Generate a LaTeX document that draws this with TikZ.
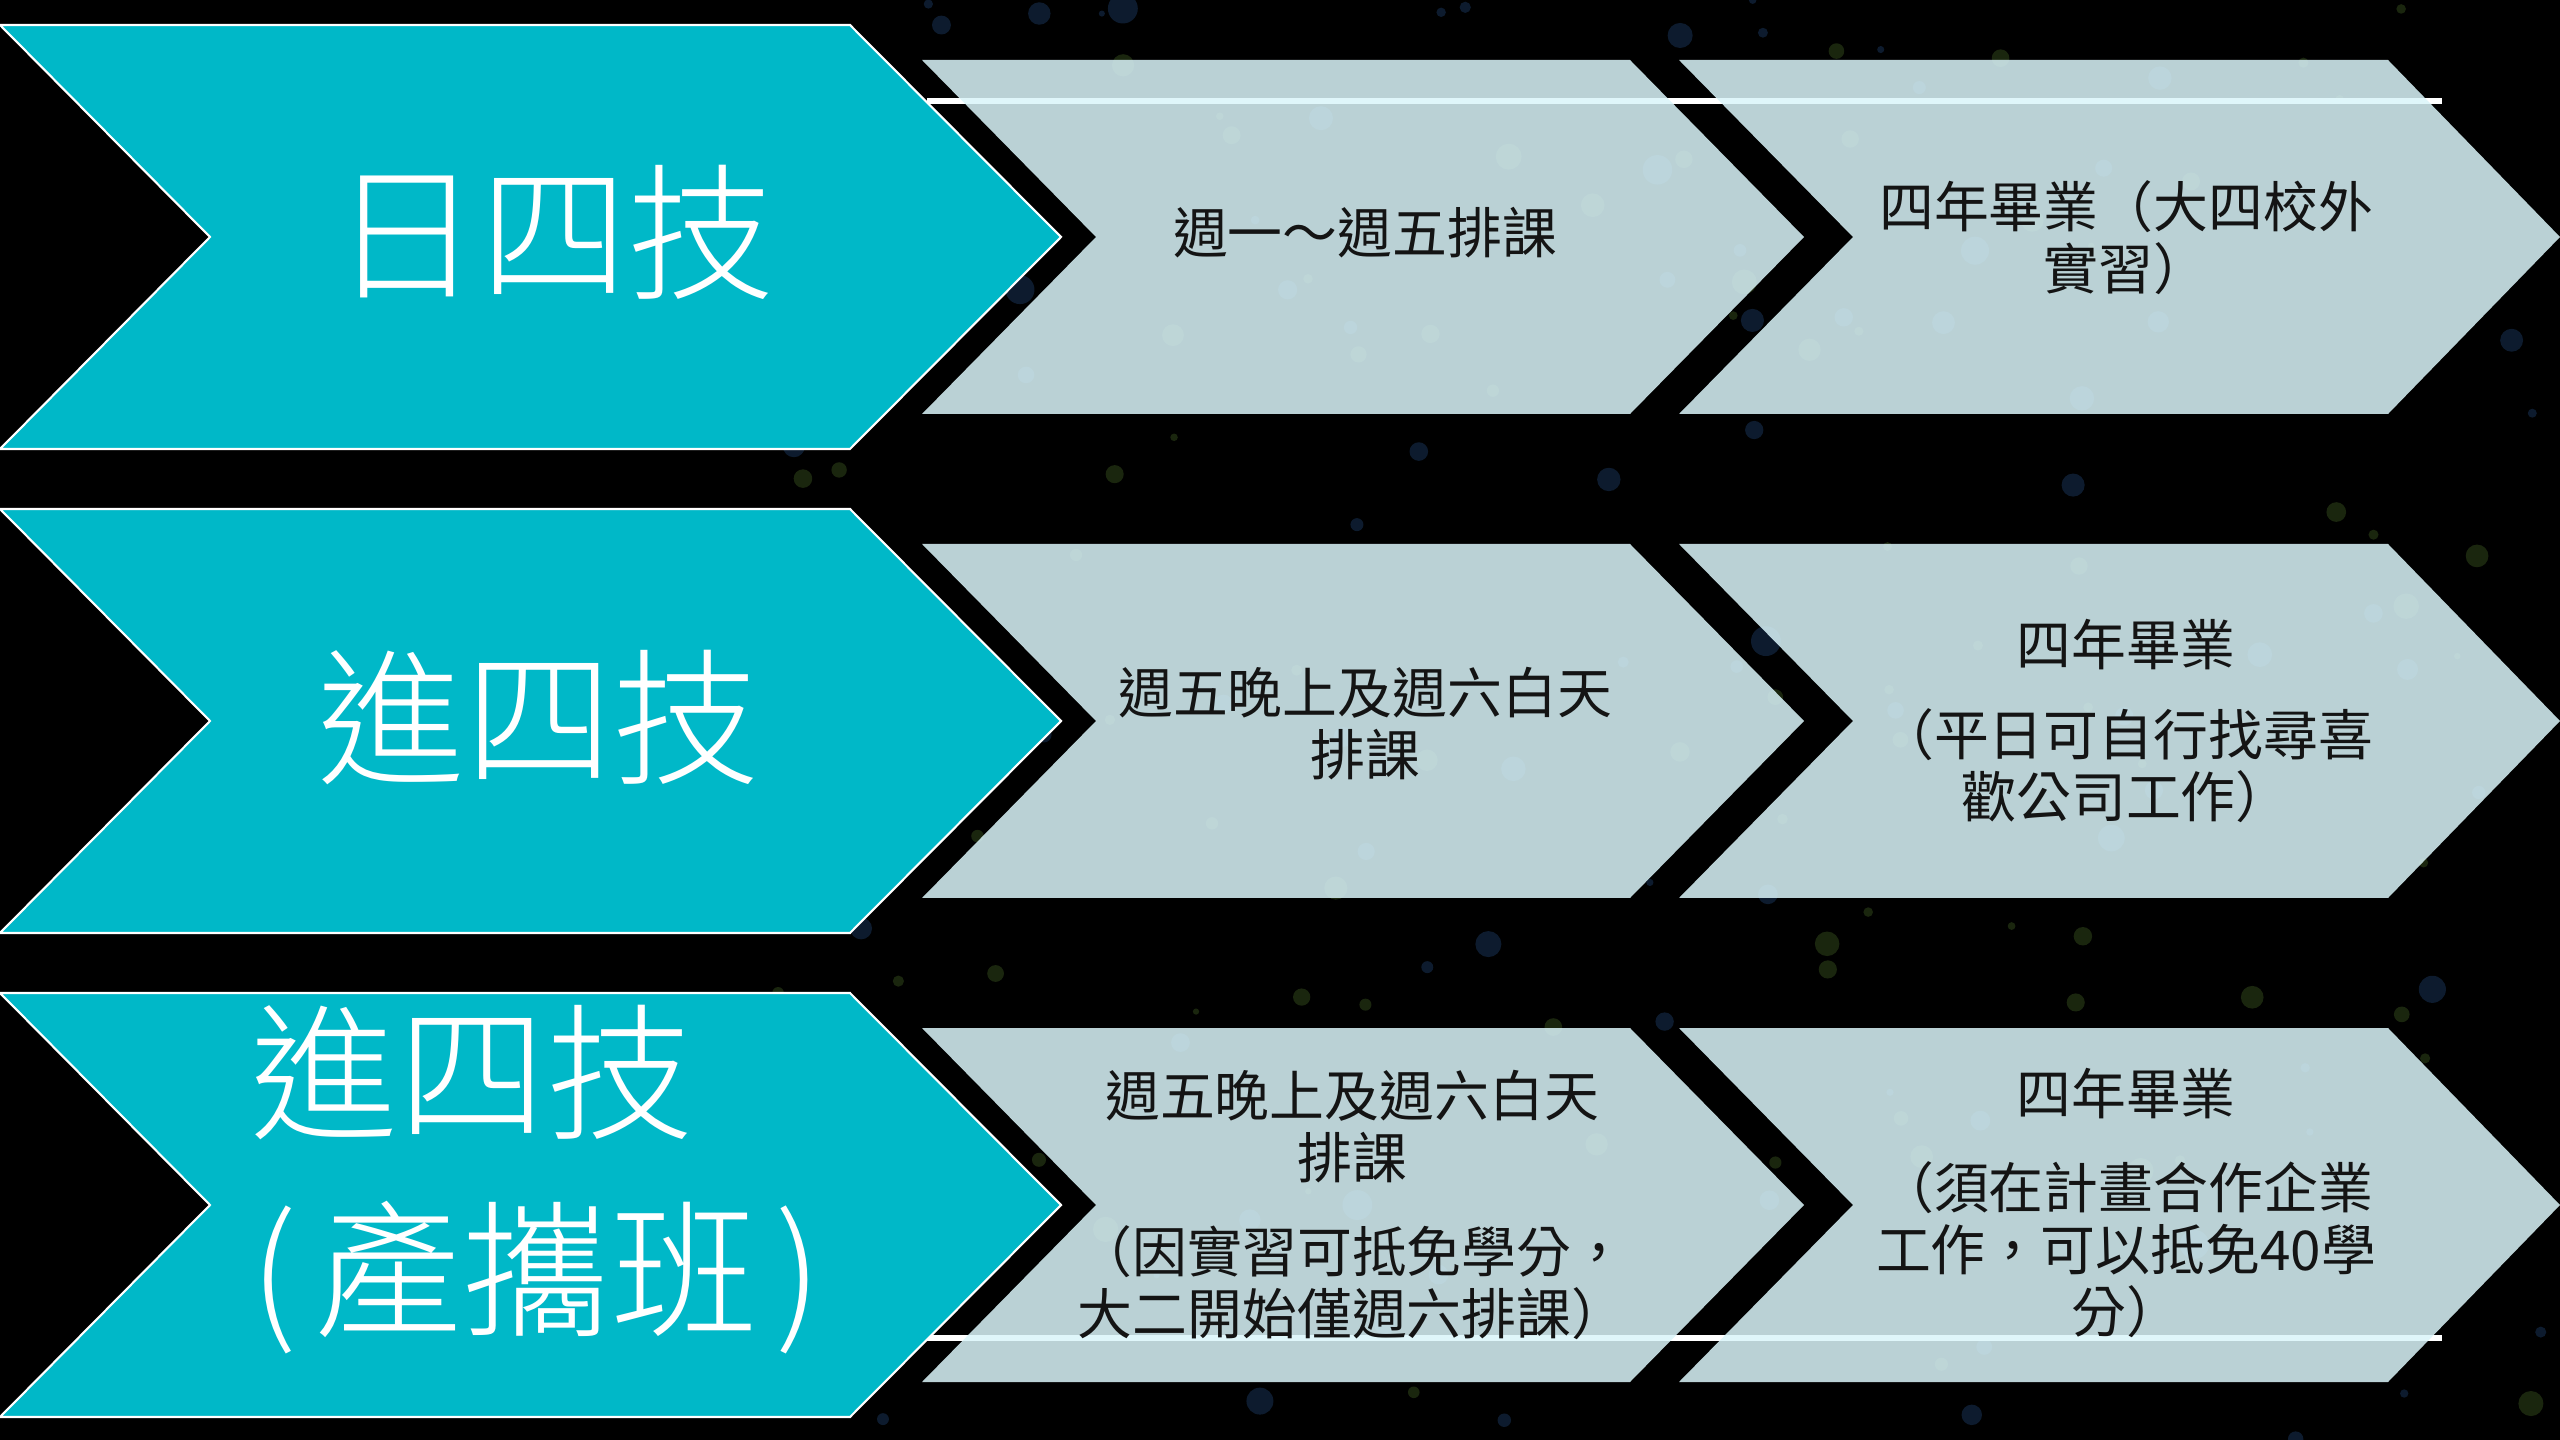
\documentclass[tikz,border=0pt]{standalone}
\usepackage{fontspec}
\newfontfamily\cjk{Noto Sans CJK TC}
\IfFontExistsTF{Noto Sans CJK TC Light}{\newfontfamily\cjkl{Noto Sans CJK TC Light}}{\newfontfamily\cjkl{Noto Sans CJK TC}}
\definecolor{tealc}{RGB}{0,184,200}
\definecolor{lightc}{RGB}{218,245,250}
\definecolor{dotg}{RGB}{48,70,26}
\definecolor{dotb}{RGB}{22,46,78}
\definecolor{inkc}{RGB}{20,20,20}
\tikzset{
  tealbox/.style={fill=tealc, draw=white, line width=0.6pt},
  lightbox/.style={fill=lightc, fill opacity=0.855},
  rulebar/.style={draw=white, line width=1.5pt},
  bigtxt/.style={text=white, inner sep=0pt, font=\cjkl\fontsize{42pt}{56pt}\selectfont},
  smalltxt/.style={text=inkc, inner sep=0pt, align=center, font=\cjk\fontsize{15.6pt}{17.6pt}\selectfont}
}
\begin{document}
\begin{tikzpicture}[x=0.01cm,y=-0.01cm]
\useasboundingbox (0,0) rectangle (2560,1440);
\fill[black] (0,0) rectangle (2560,1440);
% faint background dots
\pgfmathsetseed{11}
\foreach \i in {1,...,90}{
  \pgfmathsetmacro\dx{750+1810*rnd}
  \pgfmathsetmacro\dy{1440*rnd}
  \pgfmathsetmacro\dr{3+10*rnd}
  \fill[dotg, opacity=0.55] (\dx,\dy) circle[radius=\dr];
}
\foreach \i in {1,...,90}{
  \pgfmathsetmacro\dx{750+1810*rnd}
  \pgfmathsetmacro\dy{1440*rnd}
  \pgfmathsetmacro\dr{3+12*rnd}
  \fill[dotb, opacity=0.6] (\dx,\dy) circle[radius=\dr];
}
% white bars
\draw[rulebar] (927,101) -- (2442,101);
\draw[rulebar] (927,1338) -- (2442,1338);
% chevrons
\foreach \cy in {237,721,1205}{
  \draw[tealbox] (0,\cy-212) -- (850,\cy-212) -- (1061,\cy) -- (850,\cy+212) -- (0,\cy+212) -- (210,\cy) -- cycle;
  \fill[lightbox] (922,\cy-177) -- (1630,\cy-177) -- (1804,\cy) -- (1630,\cy+177) -- (922,\cy+177) -- (1096,\cy) -- cycle;
  \fill[lightbox] (1679,\cy-177) -- (2388,\cy-177) -- (2560,\cy) -- (2388,\cy+177) -- (1679,\cy+177) -- (1853,\cy) -- cycle;
}
% labels
\node[bigtxt] (t1) at (554,232) {日四技};
\node[bigtxt] (t2) at (539,718) {進四技};
\node[bigtxt, align=left, anchor=west] (t3) at (250,1180) {進四技\\(\hspace{0.12em}產攜班\hspace{0.12em})};
\node[smalltxt] (a1) at (1365,233) {週一～週五排課};
\node[smalltxt] (b1) at (2126,238) {四年畢業（大四校外\\實習）};
\node[smalltxt] (a2) at (1365,724) {週五晚上及週六白天\\排課};
\node[smalltxt] (b2) at (2126,721) {四年畢業\\[8pt]（平日可自行找尋喜\\歡公司工作）};
\node[smalltxt] (a3) at (1352,1205) {週五晚上及週六白天\\排課\\[9pt]（因實習可抵免學分，\\大二開始僅週六排課）};
\node[smalltxt] (b3) at (2126,1203) {四年畢業\\[9pt]（須在計畫合作企業\\工作，可以抵免40學\\分）};
\end{tikzpicture}
\end{document}
